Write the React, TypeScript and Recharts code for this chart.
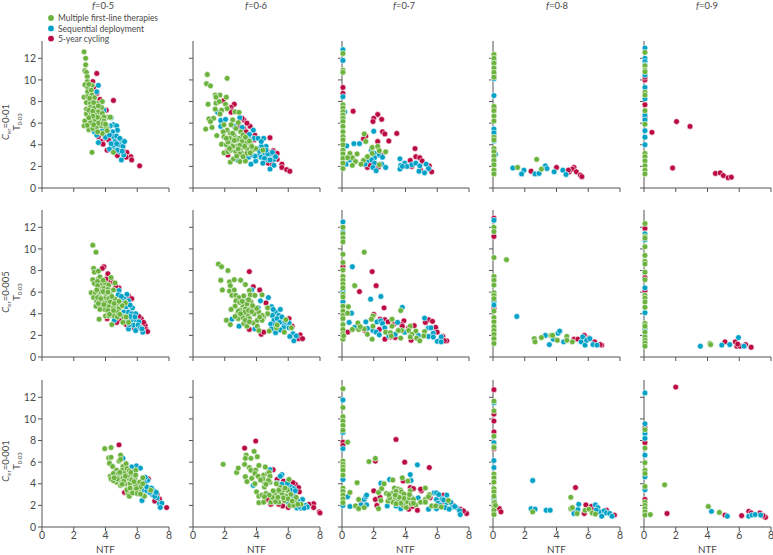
import React from 'react';
import { ScatterChart, Scatter, XAxis, YAxis } from 'recharts';

type P = number[];
const GREEN = '#6cb33e', BLUE = '#00a1c7', RED = '#bb0a41';
const onAxis = (ys: number[]): P[] => ys.map((y) => [0.06, y]);

const fValues = ['0·5', '0·6', '0·7', '0·8', '0·9'];
const cValues = ['0·01', '0·005', '0·001'];
const xTicks = [0, 2, 4, 6, 8];
const yTicks = [0, 2, 4, 6, 8, 10, 12];

// row 1
const g11: P[] = [[2.65,12.6],[2.75,12],[2.75,11.4],[2.7,10.85],[2.8,10.7],[2.85,10.3],[2.85,9.85],[2.7,9.55],[2.88,9.3],[3.15,9.5],[2.88,8.9],[3.1,9.05],[2.65,8.4],[2.88,8.45],[3.15,8.6],[3.3,8.35],[3.8,8],[2.8,7.9],[3.05,7.85],[3.45,7.85],[2.8,7.3],[3.05,7.45],[3.3,7.4],[3.75,7.45],[3.55,7.05],[2.8,6.85],[3.1,6.85],[3.35,6.75],[3.8,6.9],[4.15,6.55],[3.9,6.55],[3.1,6.45],[3.35,6.3],[3.65,6.35],[2.7,6.2],[3.05,6.05],[2.65,5.75],[2.95,5.4],[3.2,5.5],[3.45,5.65],[3.75,5.75],[4.05,5.6],[3.8,5.05],[3.15,3.3],[4.5,3.3],[4.1,5.3],[3.5,5.2],[2.95,9.6],[3,8.3],[3.25,7.9],[3.55,7.6],[2.95,7.2],[3.2,7.1],[3.5,6.55],[3.2,6.65],[2.95,6.5],[3.9,6.2],[3.55,6],[3.25,5.85],[4.3,6.55],[3.85,5.95],[4,5.9],[2.85,5.8]];
const b11: P[] = [[3.55,9.5],[3.45,8.9],[3.6,7.7],[3.9,7.2],[4.35,6.5],[4.5,5.85],[4.7,5.75],[4.75,5.35],[4.45,5.2],[3.7,5.85],[3.3,5.2],[3.45,4.9],[3.55,4.2],[4.5,4.75],[4.6,4.3],[5,4.4],[4.5,3.85],[4.85,4],[5.1,3.85],[4.6,3.5],[4.9,3.35],[5,2.6],[5.15,3.05],[4.3,5.75],[4.15,5.2],[3.8,5.3],[4.7,4.8],[4.75,3.5],[4.1,5.7],[4,4.7],[4.25,4.9],[4.9,4.6],[4.35,4.1],[4.7,4.1],[5.2,4.3],[5.05,3.4],[4.25,3.6]];
const r11: P[] = [[3.45,10.6],[3.2,9.85],[4.5,8.1],[3.25,9.3],[3.45,8.75],[3.65,8.2],[4.05,7.2],[3.75,4.3],[4,4.6],[4.1,3.5],[3.85,4.05],[4.2,4.45],[3.55,4.75],[4.75,3],[5.35,3.3],[5.6,2.9],[5.65,2.6],[5.3,2.85],[6.15,2.05],[5.1,3.5],[3.05,9.4]];

const g12: P[] = [[0.9,10.5],[0.85,9.65],[1.1,9.45],[2.15,10.15],[1.4,8.6],[1.7,8.6],[1.45,8.4],[2.1,8.4],[0.95,7.75],[1.45,7.85],[1.65,8],[2.05,7.75],[1.4,7.3],[1.8,7.2],[2.15,7.35],[1.7,6.85],[2.65,7.05],[2.9,7],[1,6.4],[1.3,6.45],[1.1,6.15],[1.2,5.6],[0.8,5.45],[1.5,4.85],[2.5,6.3],[2.85,6.05],[2.4,5.85],[2.7,5.5],[1.95,5.85],[2.15,5.35],[1.9,5.2],[2.35,5.05],[3,5.2],[2.6,4.8],[2.9,4.6],[1.95,4.75],[3.15,4.9],[1.8,4.05],[2.1,4],[2.4,4.15],[2.75,4.45],[3.1,4.3],[3.4,4.2],[3.65,4.05],[1.95,3.25],[2.2,3.35],[2.4,3.5],[2.7,3.35],[3,3.6],[3.4,3.6],[3.75,3.5],[3.95,3.65],[2.8,3.9],[3.05,3.25],[3.4,3.2],[2.35,2.4],[2.55,2.7],[2.95,2.45],[3.3,2.5],[4.4,3.5],[3.7,3.85],[2.4,4.5],[2.5,5.05],[2.3,4.6],[2.6,4.4],[2.2,4.25],[2.5,3.85],[2.95,3.95],[2.3,3.65],[2.85,3.6],[3.25,3.85],[3.55,4.35],[2.95,3.15],[3.6,3.25],[3.15,2.9],[2.1,4.6],[3.3,4.7],[2.75,2.95]];
const b12: P[] = [[1.75,6.25],[2.05,6.35],[2.95,6.5],[1.75,5.7],[1.55,7],[2.6,5.7],[3.1,5.6],[3.8,5.35],[3.55,4.95],[3.85,4.6],[4.1,4.6],[4.45,4.6],[4.6,3.85],[4.3,3.85],[4.05,3.65],[4.15,3.05],[3.95,2.5],[3.65,2.2],[3.5,2.85],[4.3,2.85],[4.5,3.25],[4.85,3.15],[4.7,2.6],[5.1,2.65],[5.1,2.1],[4.85,1.75],[2.6,4.9],[2.8,2.6],[4.7,3.15],[5.2,2.9],[3.3,4.6],[3.55,4.45],[4.3,4.3],[4.2,3.4],[4.6,3.5],[4.5,2.75],[3.9,2.95],[4.85,2.6],[5,3.3],[4.4,2.3],[3.65,3.1]];
const r12: P[] = [[1.9,8.05],[2.6,7.75],[2.4,7.45],[2.45,7.15],[3.2,6.3],[3.6,5.7],[3.2,5.5],[4.85,4.65],[3.9,4.9],[2.2,3.05],[5.05,3.45],[5.1,3.05],[5.3,2.65],[4.75,2.3],[5.6,2.2],[5.6,1.9],[5.9,1.7],[6.1,1.55],[3.1,6.45],[2.9,5.7],[4.25,3.2],[4.7,3.35],[3.4,6],[3.35,5.2],[3.85,4.45],[4.6,3.8],[5.3,3.2],[2.15,3.4],[2.4,7],[5,2.2]];

const g13: P[] = [...onAxis([12.45,10.9,10.7,7.7,7.4,7.05,6.75,6.45,6.15,5.7,5.2,4.75,4.45,4,3.5,3.15,2.75,2.3,1.8]),[1.4,5],[1.5,4.3],[1.9,3.75],[2.25,3.85],[2.35,3.45],[2.75,3.35],[1.9,3.2],[0.95,3.15],[0.5,3.2],[0.65,2.8],[0.35,2.8],[1.6,2.9],[0.85,2.45],[1.35,2.55],[1.2,2.2],[0.65,2.1],[2.35,2.15]];
const b13: P[] = [...onAxis([12.8,11.8,8.45]),[0.17,7.05],[0.3,3.9],[0.75,4.1],[1.1,4.1],[2,5.25],[1.85,3.5],[2.05,3.2],[2.35,3.05],[2.55,2.85],[2.05,2.8],[1.85,2.6],[1.55,2.45],[1.45,2.2],[2.05,2.3],[2.5,2.2],[1.95,1.9],[2.15,1.6],[2.75,1.9],[0.5,2.6],[0.25,2.2],[3.65,2.7],[3.7,2.1],[3.65,1.75],[3.95,2.3],[4.1,2],[4.4,2.15],[4.65,2.3],[4.9,2.05],[5.3,2.2],[4.85,1.55],[5.2,1.4],[5.45,1.8],[3.8,2]];
const r13: P[] = [...onAxis([9.3,8.75]),[0.7,7.1],[2.25,6.8],[2,6.45],[1.95,6.15],[2.5,6.35],[2.55,5.2],[2.7,5],[3.45,5.05],[2.95,4.35],[2.25,4.3],[1.5,4.8],[1.35,4.55],[4.6,3.65],[4.65,2.9],[4.9,2.8],[5.05,2.5],[4.3,2.55],[1.6,1.9],[1.75,2.15],[2.3,1.95],[2.5,3.05],[5.5,2.05],[5.65,1.5],[4.4,2],[4.95,1.65]];

const g14: P[] = [...onAxis([12.35,12,11.55,11.1,10.7,10.25,7.55,7.15,6.65,6.2,4.7,4.45,3.65,3.35,2.95,2.55,2.15,1.65,1.3]),[2.75,2.65],[1.55,1.9],[3.05,1.75]];
const b14: P[] = [...onAxis([11.7,10.1,8.55,5.45,5.1,4.35]),[0.15,3.1],[1.25,1.85],[1.95,1.65],[1.8,1.3],[2.65,1.3],[2.9,1.35],[3.3,2.05],[3.4,1.8],[3.85,1.5],[4.4,1.65],[4.6,1.25]];
const r14: P[] = [...onAxis([10.35,7.4,4.8]),[2.4,1.55],[4,1.9],[5.1,1.9],[5,1.75],[4.8,1.5],[5.25,1.5],[5.5,1.2],[5.6,1.05],[4.75,1.65]];

const g15: P[] = onAxis([12.55,11.3,10.9,10.75,8.85,8.6,7.15,5.9,3.2,2.9,2.5,2.05,1.65,1.3]);
const b15: P[] = onAxis([12.95,12,11.7,11.4,10.45,9.3,8.25,6.75,6.3,5.3,4.7,4]);
const r15: P[] = [...onAxis([10,10.25,7.7,6.55]),[0.5,5.15],[2.05,6.15],[2.9,5.7],[1.8,1.85],[4.5,1.35],[4.8,1.4],[5,1.15],[5.3,0.95],[5.5,1]];

// row 2
const g21: P[] = [[3.2,10.35],[3.4,9.7],[3.25,8.2],[3.3,7.85],[3.55,7.95],[3.2,7.15],[3.55,7.25],[3.3,6.8],[3.65,7.4],[4.35,7.35],[4.6,6.85],[3.1,5.95],[3.35,5.95],[3.25,5.5],[3.6,5.7],[3.45,5.15],[3.4,4.7],[3.7,4.65],[3.65,6.4],[3.8,6.8],[4,6.8],[3.9,6.35],[4.2,6.65],[4.15,6.25],[4.5,6.2],[3.7,6.05],[4,5.85],[4.3,5.8],[3.95,5.4],[4.2,5.4],[4.6,5.35],[3.8,5.1],[4.05,5],[4.3,5.1],[4.75,4.95],[5.25,5],[3.95,4.4],[4.2,4.65],[4.5,4.55],[4.85,4.5],[4.35,4.15],[4.75,4.15],[4,3.8],[4.2,3.8],[4.5,3.85],[5.15,3.7],[5.3,3.7],[3.6,3.5],[4.75,3.7],[5.1,3.2],[5.45,3.2],[4.4,3],[3.5,7],[3.85,7.1],[3.5,6.6],[3.45,6.2],[3.85,6.05],[4.15,6],[4.4,5.6],[3.5,5.5],[3.7,5.4],[3.55,4.95],[3.9,4.85],[4.15,4.3],[4.55,4.95],[4.5,4.3],[4.25,3.95],[4.9,3.95],[5.05,4.75],[3.65,4.4],[4.85,5.15]];
const b21: P[] = [[4.85,6.15],[4.8,5.75],[5.35,5.8],[5.15,5.4],[5.45,5.2],[5.3,4.65],[5.7,4.55],[5.15,4.15],[5.45,4.15],[5.65,4],[5.9,4],[5.35,3.4],[5.6,3.35],[5.9,3.45],[6.1,3.25],[5.75,2.95],[6.05,2.95],[5.45,2.6],[5.9,2.45],[6.2,2.7],[6.35,2.3],[4.55,3.4],[5,5.6],[5.25,5.05],[5,5],[5.55,4.8],[5.1,3.8],[5.55,3.75],[5.85,3.7],[5.5,3],[6.3,2.6]];
const r21: P[] = [[3.9,8.35],[4.15,7.7],[4.05,7.2],[4.35,7],[4.85,6.4],[5.45,5.65],[6.25,3.55],[6.5,2.9],[6.55,2.55],[6.65,2.35],[4.9,3.45],[4.1,3.55],[3.8,8.2],[4.5,6.9],[4.65,6.55],[5.65,5.4],[6.1,3.75],[6.4,3.2],[4.7,3.2],[5.3,3],[5.8,2.7]];

const g22: P[] = [[1.6,8.6],[1.8,8.35],[2.2,8],[1.75,7.1],[2.3,6.95],[2.6,7.15],[3,7.1],[3.3,6.7],[1.85,6.2],[2.35,6.6],[2.3,6.1],[2.6,6.2],[2.45,5.7],[2.7,5.7],[2.9,5.5],[3.2,5.65],[3.55,6.15],[3.6,5.75],[3.9,5.7],[4.35,5.75],[2.7,5.2],[3.3,5],[3.65,5.1],[2.65,4.7],[2.4,4.4],[3.15,4.7],[3.4,4.9],[3.05,4.3],[3.3,4.45],[3.65,4.45],[2.8,4],[3.1,3.85],[3.45,3.85],[3.85,4],[4.15,4.15],[4.7,4.55],[4.7,4],[2.85,3.55],[3.15,3.65],[3.55,3.55],[3.8,3.15],[4.45,3.7],[2.1,3.4],[2.35,3],[3.2,3.1],[3.4,2.85],[4.05,2.85],[4.15,2.45],[4.8,2.4],[5.25,2.7],[5.3,2.95],[5.75,2.3],[5.85,3.45],[6.2,2.7],[4.05,3.4],[4.35,3.85],[2.95,5.05],[3.1,5.15],[3.5,5.3],[2.95,4.35],[3.25,4.15],[3.5,4.3],[3.7,4.2],[2.85,4.25],[3,4],[3.3,3.4],[3.55,3.25],[4.35,3.4],[4.2,3.7],[4,4.5],[3.75,4.75],[2.65,3.75]];
const b22: P[] = [[4.75,5.5],[4.25,5.2],[4.1,4.55],[3.7,6.2],[3.4,5.25],[2.45,3.5],[2.9,2.85],[4.95,4.65],[5.2,4.15],[5.5,4.4],[5.4,3.85],[5,3.85],[5.1,3.4],[5.55,3.4],[5.75,2.95],[6.05,3.15],[5.2,2.25],[5.7,2.7],[6.05,2.7],[6.3,2.15],[6.35,1.5],[6.1,1.9],[6.5,1.95],[3.9,2.6],[4.9,3.05],[5.05,4.4],[5.3,3.55],[5.6,3.7],[5.45,3.2],[5.8,3.3],[5.5,2.5],[4.95,2.6],[5.2,3]];
const r22: P[] = [[3.55,7.9],[4.2,6.2],[3.8,6.5],[4.6,5],[3.55,2.55],[4.3,2.1],[4.45,2.3],[6.05,3.55],[6.25,2.85],[6.75,2.05],[6.65,1.7],[6.9,1.7],[3.85,4.4],[2.9,3.7]];

const g23: P[] = [...onAxis([12,11.4,11,10.65,9.5,8.75,8.05,7.45,7.1,6.75,6.4,5.8,5.55,4.7,4.25,3.85,3.55,3,2.55,2.15,1.85,1.65]),[1.4,9.7],[0.8,6.6],[0.4,4.65],[0.35,4.05],[1.95,3.8],[1.85,3.5],[3.7,4.3],[3.15,3.5],[1,3.15],[1.95,2.85],[3.15,2.85],[4.3,2.85],[0.65,2.55],[1.05,2.55],[1.4,2.6],[1.15,2.8],[1.6,2.1],[1.9,1.65],[2.75,2.3],[3.05,2.25],[3.1,1.95],[3.75,2.45],[3.55,2.45],[3.7,1.75],[4.2,2.45],[4.65,2.4],[4.4,2.1],[4.3,1.85],[4.7,1.75],[4.9,1.5],[5.2,2.35],[5.15,1.95],[0.1,1.95]];
const b23: P[] = [...onAxis([12.5,11.55,6.1,5.1]),[0.65,8.35],[1.8,5.35],[2.45,5.6],[3.8,4.6],[0.6,4.05],[0.45,3.2],[1.5,3.25],[0.8,2.75],[1.6,2.65],[2.2,3.25],[2.45,3.35],[2.55,3.1],[2.7,2.7],[1.95,2.45],[2.15,2.3],[2.35,2.05],[3.5,3.2],[3.95,2.3],[3.35,2.1],[2.95,1.95],[5.2,3.6],[5.45,2.7],[5.6,2.7],[5.75,2.2],[5.45,1.9],[5.75,1.85],[6,1.45],[6.25,1.85],[6.25,1.4],[4.8,2]];
const r23: P[] = [...onAxis([8.35]),[1.9,7.9],[2.15,6.6],[1.1,6.05],[2.65,4.55],[2,3.95],[0.35,2.3],[2.4,3.5],[2.7,3.45],[2.9,3.25],[3.25,3],[3.9,3.35],[3.75,3],[4.55,2.9],[4.2,2.7],[2.35,2.55],[2.7,1.65],[3.05,1.85],[3.35,1.8],[4.35,1.55],[5.45,3.45],[5.7,3.3],[5.25,3.2],[5.9,2.75],[6,2.3],[6.35,1.9],[6.6,1.5],[6.45,1.5],[1.45,2.45],[3.8,2.85]];

const g24: P[] = [...onAxis([12,11.6,9.2,7.45,7.1,6.65,5.95,5.7,5.4,4.25,3.65,3.25,2.8,2.45,2.1,1.7,1.25]),[0.85,9],[2.6,1.7],[2.65,1.4],[3.05,1.8],[3.65,2],[3.75,2],[4.05,1.55],[4.65,1.9],[4.65,1.55],[5,1.4]];
const b24: P[] = [...onAxis([12.65,5.15,4.8]),[1.5,3.75],[3.3,2],[3.55,1.15],[3.8,1.65],[4.1,2.2],[4.2,2.4],[4.45,1.4],[5.55,1.4],[5.65,1.85],[5.8,1.1],[5.9,1.55],[6.1,1.7],[6.3,1.15],[6.55,1.1]];
const r24: P[] = [...onAxis([12.85,11.15,4.5]),[5.1,1.65],[5.35,1.65],[5.75,2],[6.05,1.75],[6.4,1.4],[6.85,1.1],[6.75,1.15]];

const g25: P[] = [...onAxis([12.35,11.15,11,10.2,9.4,8.85,8.6,7.85,7.15,5.7,5.45,5.1,4.6,3.1,2.85,2.3,1.85,1.55,1.3,1]),[4.15,1.25],[4.2,1.15]];
const b25: P[] = [...onAxis([11.4,10.85,6.4,4.1,2.6]),[3.55,1],[4.9,1.1],[5.4,1.15],[5.95,1.8],[6.3,1]];
const r25: P[] = [...onAxis([11.9,7.35,6.15]),[5.1,1.4],[5.75,1.4],[5.85,1],[6.05,1],[6.4,1.15],[6.75,0.9],[5.9,1.2]];

// row 3
const g31: P[] = [[3.95,7.25],[4.35,7.35],[4.2,6.4],[4.35,6.45],[4.25,5.9],[4.85,6.1],[4.95,6.65],[4.45,5.6],[4.95,6.25],[4.3,4.7],[4.35,4.45],[4.6,5.1],[4.6,4.7],[4.7,5.25],[4.9,4.7],[4.7,4.15],[5,4.15],[5.1,5.6],[5.05,5.25],[5.3,5.85],[5.35,5.4],[5.2,4.95],[5.45,4.5],[5.25,4],[5.55,4],[5.75,4.65],[5.9,5.25],[5.9,3.85],[5.65,4.85],[6.15,4.15],[6.35,4.55],[5.4,3.15],[5.5,2.85],[5.8,3.4],[6.1,3.25],[6.45,2.85],[6.85,3.4],[5.35,3.45],[4.95,3.85],[4.5,4.3],[6.2,3.7],[5.5,5.2],[5.85,4.5],[6.35,4],[4.5,4.95],[4.8,4.95],[4.75,4.45],[4.55,4.55],[4.9,5.05],[5.1,4.5],[5.15,4.25],[5.4,4.75],[5.65,4.35],[5.05,3.95],[5.55,3.6],[5.7,3.15],[5.95,3.55],[5.6,5.05],[5.8,4.2],[5.25,4.7],[5.9,4.8],[6,3.1],[6.2,3.05]];
const b31: P[] = [[5.95,5.65],[6.2,5.45],[5.1,6.35],[5.65,5.55],[6.65,4.3],[6.5,3.85],[6.7,3.55],[6.3,3.4],[7.05,3.35],[6.3,2.45],[6.95,3],[7.25,2.7],[7.4,2.15],[7.55,2.2],[7.45,1.8],[6.6,3.35],[6.5,4.6],[6.45,4.1],[6.6,3.7],[6.9,3.6],[6.8,3.2],[7.1,2.85],[7.2,3.2]];
const r31: P[] = [[4.85,7.6],[6.7,4.45],[5.2,3.2],[7.4,2.6],[7.1,2.4],[7.85,1.8],[7.25,3]];

const g32: P[] = [[1.9,5.8],[2.75,5.05],[2.85,5.45],[3.25,5.8],[3.35,6.65],[3.3,6.35],[3.65,6.35],[3.85,7],[4.05,6.5],[3.55,5.5],[3.65,5.25],[3.95,5.25],[4.15,5.7],[4.55,5.55],[3.9,4.95],[4.1,4.7],[3.3,4.65],[3.4,4.2],[3.7,4.5],[3.9,4],[4.45,4.8],[4.7,4.95],[4.8,5.05],[4.85,4.7],[4.5,4.15],[4.5,3.7],[4.85,4.15],[4,3.25],[4.15,2.85],[4.35,2.95],[4.6,3.1],[4.15,2.25],[4.45,2.3],[4.9,2.3],[5.1,2.6],[5.4,2.3],[5.15,3.1],[5.5,3.65],[5.5,3],[5.75,2.45],[6.05,4.4],[5.95,3.4],[6.15,3],[6.1,2],[6.45,2.3],[6.5,2.75],[6.35,2],[6.8,2.1],[5.25,4],[5.85,2.85],[4.75,4.3],[4.6,3.95],[4.4,4.45],[4.25,4.35],[5,2.75],[5.2,2.35],[5.6,3.1],[5.7,3.45],[5.35,2.75],[5.7,2.7],[6,2.6],[6.25,2.4],[5.4,3.4],[5.8,3.6],[6.6,2.1],[5.05,3.35],[4.8,2.95],[4.5,2.8]];
const b32: P[] = [[4.85,5.3],[5.6,4.85],[5.5,4.7],[3.8,3.85],[5.85,3.85],[6.15,3.7],[6.35,3.55],[6.25,3.1],[6,2.3],[6.55,2],[6.55,1.75],[6.9,2.55],[6.9,1.85],[7.1,2],[7.2,1.85],[6.8,1.75],[5.65,3],[5.3,4.05],[5.6,3.95],[5.9,3.65],[6.15,3.4],[6.35,2.85],[6.6,2.4],[6.7,1.9],[7,1.75],[5.95,4.05],[6.45,3.35]];
const r32: P[] = [[3.25,7.3],[3.95,7.95],[5.05,5.3],[4.7,2.55],[5.65,1.95],[6,1.8],[6.45,3.95],[6.65,3.65],[5.7,4.25],[6.15,4.05],[6.7,3.25],[7.6,2.15],[7.6,1.8],[7.95,1.4],[8,1.3],[6,4.3],[5.3,4.4],[4.9,2.1],[6.3,4.1],[7.3,2.1],[5.4,2.1]];

const g33: P[] = [...onAxis([12.8,11.05,10.2,9.8,9.4,8.95,6.1,5.8,5.55,5.25,4.8,3.6,3.3,2.95,2.6,2.25]),[0.35,7.85],[0.95,4.1],[0.5,3.2],[1.05,2.55],[0.85,1.95],[1.05,1.7],[1.4,1.8],[1.7,6.05],[2.1,6.35],[2.3,3.2],[2.5,3.55],[2.45,2.45],[2.3,1.7],[2.65,4],[3.2,4.35],[2.8,3.1],[3.3,3.6],[3.15,3.1],[3.45,2.95],[3.55,3.5],[3.7,3.4],[3.55,3.1],[3.8,4.55],[4.15,4.25],[4.3,3.35],[3.75,2.85],[4.05,2.95],[3.35,2.6],[3.2,2.3],[3.55,2.45],[3.8,2.4],[4.1,2.3],[2.9,2.4],[4.35,2.15],[3.85,2],[4.05,1.8],[4.65,2.05],[4.95,2.3],[5.25,3.6],[5.5,3],[5.25,2.55],[5.45,2.8],[5.25,2.3],[5.65,1.95],[6.25,1.85],[5.9,1.95],[6.7,2.45],[3.4,3.3],[3.75,3.25],[3.9,3.05],[3.9,2.65],[3.6,2.75],[3.35,2.95],[4.25,2.7],[3,2.7],[4.25,3],[3.7,2.2],[3.4,2.15],[4.5,2.55],[2.95,3],[4.5,2.2]];
const b33: P[] = [...onAxis([11.75,8.75,7.25,4.4,2]),[0.35,2.8],[0.5,1.9],[1.2,2.05],[1.4,2.55],[1.5,2.8],[1.55,2.95],[1.55,2.05],[2.45,4.05],[3,4.4],[2.85,1.95],[3,2.45],[4.3,4.85],[4.35,4.3],[4.75,5.75],[4.4,2.7],[3.7,1.7],[4.8,2.7],[5.45,1.65],[5.8,3.15],[5.95,3.15],[6.6,2.95],[5.95,2.55],[6.3,2.6],[6.6,2.25],[5.95,1.7],[6.95,1.85],[7.2,1.8],[7.4,1.5],[6.85,2.3],[7.1,1.9],[7.45,1.15],[3.25,2.9],[3.45,3.5],[3.9,2.15],[3.4,1.95],[6.05,2.2],[6.2,2],[6.5,1.8],[6.4,2.5],[6.1,3],[6.75,1.65]];
const r33: P[] = [...onAxis([7.85,7.55]),[3.4,8.1],[3.95,6],[5.5,5.5],[2.1,6.1],[2,3.35],[2.1,2.55],[2.2,2],[2.4,2.75],[3.85,4.25],[4.3,3.65],[4.5,3.55],[5,3.35],[4.95,3.5],[4.2,1.65],[4.75,1.55],[4.45,1.9],[6.4,2.95],[6.4,2.3],[5.55,2.7],[7,2],[7.45,1.65],[7.85,1.25],[7.65,1.5],[1.2,2.15]];

const g34: P[] = [...onAxis([11.65,10.75,8.4,7.45,7.35,4.9,4.55,4.15,3.55,3.25,2.85,2.3,1.9,1.55,1.15]),[0.1,2.25],[0.15,2],[2.5,1.4],[4.9,2.75],[4.9,1.7],[5,1.8],[5.3,1.25],[5.8,1.55],[6.05,1.65],[6.25,1.3],[6.45,1.2]];
const b34: P[] = [...onAxis([11.5,7.8,6.15,5.5,2.6]),[2.5,4.3],[2.4,1.7],[2.65,1.65],[3.35,1.55],[3.6,1.55],[5.4,2.1],[5.2,1.4],[5.1,1.25],[5.35,1.6],[6.45,2.05],[6.6,1.8],[6.7,1.4],[6.85,1],[7,1.5],[7.15,1.3],[7.35,1.25],[7.5,1],[6.5,1.55]];
const r34: P[] = [...onAxis([12.7,10.45,9.8,8.8,7.25,1.2]),[0.4,1.7],[0.5,1.4],[5.2,3.65],[5.75,1.25],[5.85,2.05],[6.2,1.9],[6.35,1.6],[7.15,1.55],[7.65,1.1]];

const g35: P[] = [...onAxis([9,7.3,5.95,5.25,4.95,3.75,2.3,2,1.7,1.4,1.1]),[1.3,3.9],[0.4,1.15],[4.05,1.9],[4.75,1.35]];
const b35: P[] = [...onAxis([12.4,9.55,8.65,8.2,6.65,4.65,3.45]),[4.25,1.45],[5.25,1],[6.6,1],[6.8,1.1],[7,1.15],[7.35,1.1]];
const r35: P[] = [...onAxis([9.2,7.8,2.55]),[2,12.95],[1.45,1.25],[5.1,1.1],[6.15,1.05],[6.6,1.45],[7.3,1.3],[6.75,1.3],[7.65,0.9],[7.5,1.05]];

const panels: P[][][][] = [
  [[g11, b11, r11], [g12, b12, r12], [g13, b13, r13], [g14, b14, r14], [g15, b15, r15]],
  [[g21, b21, r21], [g22, b22, r22], [g23, b23, r23], [g24, b24, r24], [g25, b25, r25]],
  [[g31, b31, r31], [g32, b32, r32], [g33, b33, r33], [g34, b34, r34], [g35, b35, r35]],
];

const FONT = 'Lato, sans-serif';
const TXT = '#4a4a4a';
const colLeft = [41.5, 192.5, 342, 493, 643.7];
const rowTop = [41, 210, 380];
const titleX = [103, 256, 404, 557, 707];
const rowMid = [122, 292, 461];
const PW = 127, PH = 147, YW = 30, XH = 28;

const Dot = (color: string) => (props: any) => (
  <circle cx={props.cx} cy={props.cy} r={2.9} fill={color} stroke="#ffffff" strokeWidth={0.6} />
);
const toRows = (pts: P[]) => pts.map(([x, y]) => ({ x, y }));

function Panel({ row, col }: { row: number; col: number }) {
  const [g, b, r] = panels[row][col];
  const showX = row === 2, showY = col === 0;
  return (
    <div style={{ position: 'absolute', left: colLeft[col] - YW, top: rowTop[row] - 2 }}>
      <ScatterChart width={YW + PW + 8} height={PH + XH + 2} margin={{ top: 2, right: 8, bottom: 0, left: 0 }}>
        <XAxis
          type="number" dataKey="x" domain={[0, 8]} ticks={xTicks} interval={0} height={XH}
          stroke="#8c8c8c" strokeWidth={1.4} tickSize={4} tickMargin={1}
          tickLine={{ stroke: '#555', strokeWidth: 1 }}
          tick={{ fill: TXT, fontSize: 10.5, fontFamily: FONT }}
          tickFormatter={(v: number) => (showX ? String(v) : '')}
          label={showX ? { value: 'NTF', position: 'insideBottom', offset: 2, fill: TXT, fontSize: 9.8, fontFamily: FONT } : undefined}
        />
        <YAxis
          type="number" dataKey="y" domain={[0, 13.6]} ticks={yTicks} interval={0} width={YW}
          stroke="#555" strokeWidth={1} tickSize={4} tickMargin={2}
          tickLine={{ stroke: '#555', strokeWidth: 1 }}
          tick={{ fill: TXT, fontSize: 10.5, fontFamily: FONT }}
          tickFormatter={(v: number) => (showY ? String(v) : '')}
        />
        <Scatter name="5-year cycling" data={toRows(r)} shape={Dot(RED)} isAnimationActive={false} />
        <Scatter name="Sequential deployment" data={toRows(b)} shape={Dot(BLUE)} isAnimationActive={false} />
        <Scatter name="Multiple first-line therapies" data={toRows(g)} shape={Dot(GREEN)} isAnimationActive={false} />
      </ScatterChart>
    </div>
  );
}

const legend = [
  { label: 'Multiple first-line therapies', color: GREEN, y: 18, len: 100 },
  { label: 'Sequential deployment', color: BLUE, y: 28.4, len: 86 },
  { label: '5-year cycling', color: RED, y: 38.6, len: 51 },
];

export default function App() {
  return (
    <div style={{ position: 'absolute', left: 0, top: 0, width: 773, height: 555, background: '#fff', overflow: 'hidden' }}>
      {panels.map((cols, r) => cols.map((_, c) => <Panel key={`${r}-${c}`} row={r} col={c} />))}
      <svg width={773} height={555} style={{ position: 'absolute', left: 0, top: 0, pointerEvents: 'none' }} fontFamily={FONT} fill={TXT}>
        {fValues.map((f, i) => (
          <text key={f} x={titleX[i]} y={9} textAnchor="middle" fontSize={9.5}>
            <tspan fontStyle="italic">f</tspan>={f}
          </text>
        ))}
        {cValues.map((cv, i) => (
          <g key={cv}>
            <text transform={`translate(9,${rowMid[i]}) rotate(-90)`} textAnchor="middle" fontSize={9.5}>
              <tspan fontStyle="italic">C</tspan>
              <tspan fontSize={6} dy={2}>er</tspan>
              <tspan dy={-2}>={cv}</tspan>
            </text>
            <text transform={`translate(20,${rowMid[i]}) rotate(-90)`} textAnchor="middle" fontSize={9.5}>
              T<tspan fontSize={6} dy={2}>0·03</tspan>
            </text>
          </g>
        ))}
        {legend.map((l) => (
          <g key={l.label}>
            <circle cx={51} cy={l.y} r={2.9} fill={l.color} />
            <text x={58} y={l.y + 3.2} fontSize={9.4} textLength={l.len} lengthAdjust="spacingAndGlyphs">{l.label}</text>
          </g>
        ))}
      </svg>
    </div>
  );
}
